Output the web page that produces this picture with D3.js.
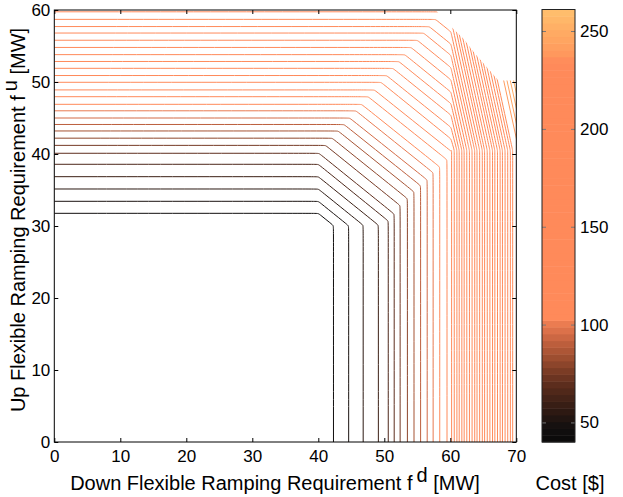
<!DOCTYPE html>
<html>
<head>
<meta charset="utf-8">
<script src="https://cdn.jsdelivr.net/npm/d3@7"></script>
<style>
  body { margin: 0; background: #fff; }
  text { font-family: "Liberation Sans", Arial, Helvetica, sans-serif; fill: #000; }
</style>
</head>
<body>
<div id="chart"></div>
<script>
// cost level of every contour line, inner -> outer
const costLevels = [45, 50, 55, 60, 65, 70, 75, 80, 85, 90, 95, 100, 105, 110,
    115, 120, 125, 130, 135, 140, 145, 150, 155, 160, 165, 170,
    175, 180, 185, 190, 195, 200, 205, 210, 215, 220, 225, 230, 235,
    240, 245, 250, 255];

// inner contours: flat at fu, bend, diagonal to a knee, then straight down at fd
const innerUp    = [31.76, 33.43, 35.14, 36.85, 38.57, 40.1, 41.2, 42.2, 43.2, 44.1, 45.0, 46.0, 46.9, 47.96];
const innerBendX = [40.0, 40.0, 40.0, 40.0, 40.0, 40.1, 41.1, 42.1, 43.0, 43.9, 44.75, 45.7, 46.55, 47.55];
const innerDownX = [42.3, 44.6, 46.8, 49.1, 50.6, 51.5, 52.4, 53.5, 54.5, 55.5, 56.5, 57.4, 58.4, 59.5];
const innerKneeY = [30.06, 30.03, 30.11, 30.12, 30.7, 31.66, 32.84, 33.8, 34.74, 35.6, 36.4, 37.4, 38.2, 39.2];

// outer contours: flat part, diagonal up to fd = 60.1, steep part, then down
const steepStartX = 60.1;
const steepFootY = 40.5;
const outerUp    = [48.9, 49.96, 50.9, 51.9, 52.85, 53.8, 54.8, 55.8, 56.8, 57.7, 58.7, 59.75];
const outerBendX = [48.5, 49.5, 50.35, 51.3, 52.2, 53.1, 54.05, 55.0, 55.95, 56.8, 57.75, 58.7];
const outerKneeY = [40.4, 42.1, 43.7, 45.4, 47.0, 48.6, 50.3, 52.0, 53.7, 55.26, 56.96, 58.7];
const outerDownX = [60.2, 60.6, 61.0, 61.35, 61.75, 62.1, 62.5, 62.9, 63.3, 63.7, 64.05, 64.45];

// contours that start at the infeasible edge (top point given at fu = 61)
const steepDownX = [64.85, 65.2, 65.6, 66.0, 66.4, 66.75, 67.15, 67.55, 67.9, 68.3, 68.7, 69.1, 69.45];
const steepTopX  = [59.97, 60.32, 60.72, 61.12, 61.52, 61.87, 62.27, 62.67, 63.02, 63.42, 63.82, 64.22, 64.57];

// highest levels, top-right corner only (top given at fu = 51)
const cornerTopX  = [67.9, 68.4, 68.9, 69.4];
const cornerFootX = [70.4, 70.9, 71.4, 71.9];

// edge of the feasible region (no cost computed beyond it)
const feasibleEdge = [[57.9, 60], [57.9, 59.9], [58.9, 58.8], [60.2, 57.6], [62.0, 56.0],
    [63.7, 54.0], [65.5, 52.1], [67.3, 50.2], [70, 50.2]];

const xTicks = [0, 10, 20, 30, 40, 50, 60, 70];
const yTicks = [0, 10, 20, 30, 40, 50, 60];
const barTicks = [50, 100, 150, 200, 250];
const costRange = [40, 261];

// colour map
const mapValues = [40, 48, 56, 63, 70, 77, 83, 90, 96, 100, 103, 234, 240, 250, 261];
const mapColors = ["#0a0a0a", "#141010", "#2e1a12", "#462418", "#5e2e1e", "#7e3e26", "#9c4e30",
    "#bc5e3c", "#d86e48", "#e87a50", "#ff8a5a", "#ff8a5a", "#ff9c5e", "#ffac64", "#ffc06e"];

const W = 623, H = 497;
const svg = d3.select("#chart").append("svg")
    .attr("width", W)
    .attr("height", H);

const x = d3.scaleLinear().domain([0, 70]).range([54.3, 516.3]);
const y = d3.scaleLinear().domain([0, 60]).range([442, 10]);
const color = d3.scaleLinear().domain(mapValues).range(mapColors).clamp(true);

// build the contour polylines
const contours = [];
innerUp.forEach((h, i) => {
    contours.push({
        level: costLevels[i],
        pts: [[0, h], [innerBendX[i], h], [innerDownX[i], innerKneeY[i]], [innerDownX[i], 0]]
    });
});
outerUp.forEach((h, i) => {
    contours.push({
        level: costLevels[innerUp.length + i],
        pts: [[0, h], [outerBendX[i], h], [steepStartX, outerKneeY[i]],
            [outerDownX[i], steepFootY], [outerDownX[i], 0]]
    });
});
steepDownX.forEach((v, i) => {
    contours.push({
        level: costLevels[innerUp.length + outerUp.length + i],
        pts: [[steepTopX[i], 61], [v, steepFootY], [v, 0]]
    });
});
cornerTopX.forEach((t, i) => {
    contours.push({
        level: costLevels[innerUp.length + outerUp.length + steepDownX.length + i],
        pts: [[t, 51], [cornerFootX[i], steepFootY]]
    });
});

// clip to the feasible part of the plot
const clipPoly = [[0, 0], [0, 60]].concat(feasibleEdge, [[70, 0]]);
svg.append("defs").append("clipPath")
    .attr("id", "feasible")
    .append("path")
    .attr("d", d3.line().x(d => x(d[0])).y(d => y(d[1]))(clipPoly) + "Z");

// soften the corners a little: extra control points either side of every knee
function rounded(pts) {
    const p = pts.map(d => [x(d[0]), y(d[1])]);
    const out = [p[0]];
    for (let i = 1; i < p.length - 1; i++) {
        const a = p[i - 1], b = p[i], c = p[i + 1];
        const la = Math.hypot(b[0] - a[0], b[1] - a[1]);
        const lc = Math.hypot(c[0] - b[0], c[1] - b[1]);
        const r1 = Math.min(3, la / 2.5), r2 = Math.min(3, lc / 2.5);
        out.push([b[0] + (a[0] - b[0]) * r1 / la, b[1] + (a[1] - b[1]) * r1 / la]);
        out.push(b);
        out.push([b[0] + (c[0] - b[0]) * r2 / lc, b[1] + (c[1] - b[1]) * r2 / lc]);
    }
    out.push(p[p.length - 1]);
    return d3.line().curve(d3.curveBasis)(out);
}

svg.append("g")
    .attr("clip-path", "url(#feasible)")
    .selectAll("path")
    .data(contours)
    .join("path")
    .attr("d", d => rounded(d.pts))
    .attr("fill", "none")
    .attr("stroke", d => color(d.level))
    .attr("stroke-width", 1);

// axes, ticks inside the box like matlab
const tickFont = 17;
svg.append("g")
    .attr("transform", `translate(0,${y(0)})`)
    .call(d3.axisBottom(x).tickValues(xTicks).tickSizeInner(-4).tickSizeOuter(0).tickPadding(8));
svg.append("g")
    .attr("transform", `translate(${x(0)},0)`)
    .call(d3.axisLeft(y).tickValues(yTicks).tickSizeInner(-4).tickSizeOuter(0).tickPadding(4));
svg.append("g")
    .attr("transform", `translate(0,${y(60)})`)
    .call(d3.axisTop(x).tickValues(xTicks).tickSizeInner(-4).tickSizeOuter(0).tickFormat(""));
svg.append("g")
    .attr("transform", `translate(${x(70)},0)`)
    .call(d3.axisRight(y).tickValues(yTicks).tickSizeInner(-4).tickSizeOuter(0).tickFormat(""));

svg.selectAll(".domain").remove();
svg.selectAll(".tick line").attr("stroke", "#000");
svg.selectAll(".tick text")
    .style("font-size", tickFont + "px")
    .style("font-family", '"Liberation Sans", Arial, sans-serif');

svg.append("rect")
    .attr("x", x(0))
    .attr("y", y(60))
    .attr("width", x(70) - x(0))
    .attr("height", y(0) - y(60))
    .attr("fill", "none")
    .attr("stroke", "#000")
    .attr("stroke-width", 1);

// axis labels
const labelFont = 20;
const xl = svg.append("text")
    .attr("x", 275)
    .attr("y", 490)
    .attr("text-anchor", "middle")
    .style("font-size", labelFont + "px");
xl.append("tspan").text("Down Flexible Ramping Requirement f");
xl.append("tspan").attr("dx", 4).attr("dy", -8).text("d");
xl.append("tspan").attr("dy", 8).text(" [MW]");

const yl = svg.append("text")
    .attr("transform", "translate(25,220) rotate(-90)")
    .attr("text-anchor", "middle")
    .style("font-size", labelFont + "px");
yl.append("tspan").text("Up Flexible Ramping Requirement f");
yl.append("tspan").attr("dx", 4).attr("dy", -8).text("u");
yl.append("tspan").attr("dy", 8).text(" [MW]");

// colour bar
const cb = {x0: 542, x1: 575};
const cy = d3.scaleLinear().domain(costRange).range([442, 9.5]);
const nBands = 64;
const bands = d3.range(nBands).map(i => {
    const step = (costRange[1] - costRange[0]) / nBands;
    return {lo: costRange[0] + i * step, hi: costRange[0] + (i + 1) * step};
});
svg.append("g")
    .selectAll("rect")
    .data(bands)
    .join("rect")
    .attr("x", cb.x0)
    .attr("width", cb.x1 - cb.x0)
    .attr("y", d => cy(d.hi))
    .attr("height", d => cy(d.lo) - cy(d.hi) + 0.5)
    .attr("fill", d => color((d.lo + d.hi) / 2));

const barAxis = svg.append("g")
    .attr("transform", `translate(${cb.x1},0)`)
    .call(d3.axisRight(cy).tickValues(barTicks).tickSizeInner(-4).tickSizeOuter(0).tickPadding(5));
barAxis.select(".domain").remove();
barAxis.selectAll(".tick line").attr("stroke", "#777");
barAxis.selectAll(".tick text")
    .style("font-size", tickFont + "px")
    .style("font-family", '"Liberation Sans", Arial, sans-serif');
svg.append("g")
    .attr("transform", `translate(${cb.x0},0)`)
    .call(d3.axisLeft(cy).tickValues(barTicks).tickSizeInner(-4).tickSizeOuter(0).tickFormat(""))
    .call(g => g.select(".domain").remove())
    .call(g => g.selectAll(".tick line").attr("stroke", "#777"));

svg.append("rect")
    .attr("x", cb.x0)
    .attr("y", cy(costRange[1]))
    .attr("width", cb.x1 - cb.x0)
    .attr("height", cy(costRange[0]) - cy(costRange[1]))
    .attr("fill", "none")
    .attr("stroke", "#222")
    .attr("stroke-width", 1);

svg.append("text")
    .attr("x", 570)
    .attr("y", 490)
    .attr("text-anchor", "middle")
    .style("font-size", labelFont + "px")
    .text("Cost [$]");
</script>
</body>
</html>
